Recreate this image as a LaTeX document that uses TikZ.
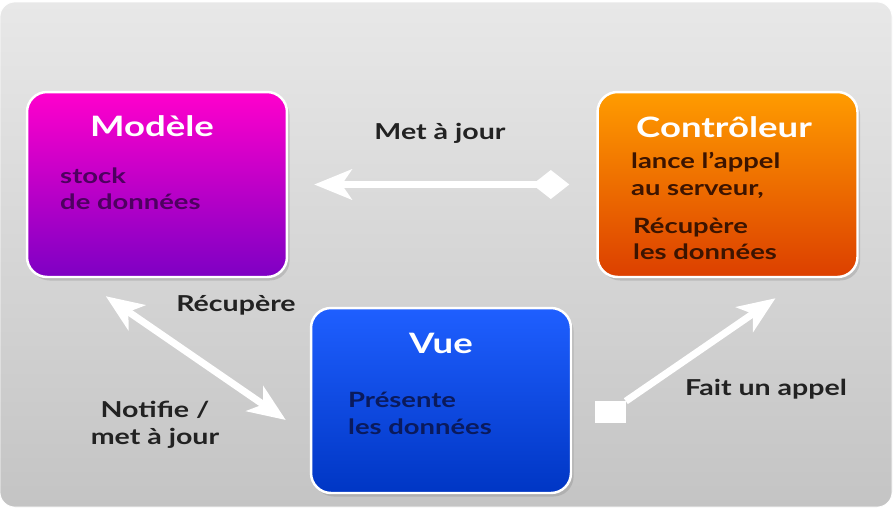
\documentclass[tikz,border=0pt]{standalone}
\usepackage{fontspec}
\setmainfont{Lato}[FakeStretch=1.3]
\usetikzlibrary{arrows.meta,shadows}
\definecolor{panelTop}{HTML}{E8E8E8}
\definecolor{panelBot}{HTML}{C4C4C4}
\definecolor{modeleTop}{HTML}{FF00CC}
\definecolor{modeleBot}{HTML}{7E00C4}
\definecolor{ctrlTop}{HTML}{FF9C00}
\definecolor{ctrlBot}{HTML}{DC3F00}
\definecolor{vueTop}{HTML}{1F5FFF}
\definecolor{vueBot}{HTML}{0036C4}
\definecolor{modeleInk}{HTML}{4E0060}
\definecolor{ctrlInk}{HTML}{3C1400}
\definecolor{vueInk}{HTML}{0A1A5C}
\definecolor{lblInk}{HTML}{222222}
\tikzset{
    mvc diagram/.style = {x=0.02cm, y=-0.02cm,
                          >={Stealth[length=7.5mm, width=6mm, inset=2mm]}},
    box/.style         = {draw=white, line width=1.4pt, rounded corners=0.4cm,
                          minimum width=5.2cm, minimum height=3.7cm,
                          drop shadow={shadow xshift=1.5pt, shadow yshift=-2pt,
                                       opacity=0.3}},
    title/.style       = {text=white, font=\fontsize{16}{19}\selectfont\bfseries},
    body/.style        = {anchor=west, align=left,
                          font=\fontsize{12}{15}\selectfont\bfseries},
    lbl/.style         = {text=lblInk, align=center,
                          font=\fontsize{12.5}{15.5}\selectfont\bfseries},
    flow/.style        = {draw=white, line width=4pt},
    endsq/.style       = {fill=white, minimum width=0.62cm, minimum height=0.44cm,
                          inner sep=0pt}
}
\begin{document}
\begin{tikzpicture}[mvc diagram]
\useasboundingbox[fill=white] (0,0) rectangle (895,514);

% ================= Background panel =================
\shade[top color=panelTop, bottom color=panelBot, draw=white, rounded corners=0.3cm]
    (0,2) rectangle (892,507);

% ================= The three blocks =================
\node[box, top color=modeleTop, bottom color=modeleBot] (modele) at (157,184.5) {};
\node[box, top color=ctrlTop, bottom color=ctrlBot] (controleur) at (727.5,184.5) {};
\node[box, top color=vueTop, bottom color=vueBot] (vue) at (441,400.5) {};

\node[title] (modele-title) at (152,126) {Modèle};
\node[body, text=modeleInk] (modele-text) at (54,188.5) {stock\\de données};

\node[title] (controleur-title) at (724,127) {Contrôleur};
\node[body, text=ctrlInk] (controleur-text) at (625,175.5) {lance l’appel\\au serveur,};
\node[body, text=ctrlInk] (controleur-text2) at (627,239) {Récupère\\les données};

\node[title] (vue-title) at (441,343) {Vue};
\node[body, text=vueInk] (vue-text) at (342,413.5) {Présente\\les données};

% ================= Connectors =================
\draw[flow, {Diamond[length=7.4mm, width=5.8mm]}->]
    ([xshift=-0.54cm]controleur.west) -- ([xshift=0.52cm]modele.east);
\node[lbl] (maj-lbl) at (440,133) {Met à jour};

\draw[flow, <->] ([shift={(80,18)}]modele.south west) -- ([shift={(-24,19.5)}]vue.west);
\node[lbl] (recup-lbl) at (236,305) {Récupère};
\node[lbl] (notif-lbl) at (155,425) {Notifie /\\met à jour};

\node[endsq] (sq) at (610,412) {};
\draw[flow, ->] (sq) -- ([shift={(48,20)}]controleur.south);
\node[lbl] (appel-lbl) at (766,389) {Fait un appel};

\end{tikzpicture}
\end{document}
